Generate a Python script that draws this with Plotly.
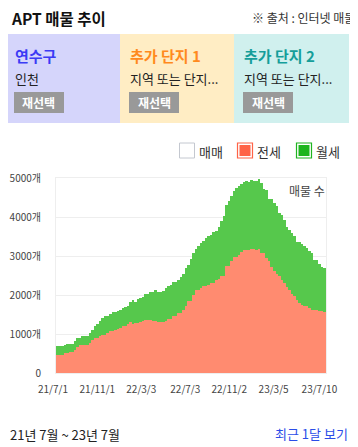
import pandas as pd
import plotly.graph_objects as go

# page body has an 8px default margin; the figure fills the rest of the 358x447 window
BODY = 8
W, H = 358 - BODY, 447 - BODY

# weekly sampling from 2021-07-01
start_date = "2021-07-01"
jeonse = [462, 462, 462, 521, 521, 538, 540, 598, 658, 709,
          709, 709, 709, 769, 855, 897, 897, 940, 983, 983,
          1026, 1068, 1068, 1100, 1128, 1154, 1197, 1197, 1265, 1300,
          1265, 1282, 1282, 1300, 1325, 1350, 1350, 1350, 1325, 1325,
          1300, 1300, 1310, 1325, 1385, 1385, 1453, 1453, 1538, 1538,
          1624, 1726, 1838, 1838, 2009, 2120, 2120, 2180, 2222, 2222,
          2265, 2308, 2308, 2393, 2410, 2496, 2496, 2735, 2735, 2863,
          2974, 2974, 3034, 3094, 3162, 3162, 3162, 3179, 3179, 3162,
          3179, 3077, 3077, 2949, 2863, 2718, 2607, 2547, 2479, 2393,
          2308, 2205, 2120, 2034, 1966, 1863, 1795, 1752, 1709, 1709,
          1667, 1624, 1607, 1607, 1581, 1581, 1556]
wolse = [239, 239, 239, 199, 231, 214, 212, 214, 239, 188,
         248, 248, 248, 257, 239, 300, 368, 385, 427, 470,
         427, 453, 488, 456, 462, 470, 470, 503, 461, 512,
         615, 538, 615, 623, 624, 684, 684, 718, 760, 795,
         768, 785, 800, 855, 837, 880, 872, 872, 855, 923,
         923, 966, 940, 1085, 1068, 1059, 1145, 1153, 1154, 1240,
         1239, 1239, 1299, 1257, 1334, 1404, 1521, 1581, 1667, 1667,
         1684, 1769, 1752, 1761, 1727, 1752, 1727, 1761, 1744, 1761,
         1795, 1795, 1641, 1751, 1598, 1743, 1752, 1727, 1624, 1667,
         1624, 1539, 1538, 1556, 1538, 1487, 1555, 1564, 1556, 1496,
         1453, 1453, 1299, 1299, 1222, 1137, 1128]
dates = pd.date_range(start_date, periods=len(jeonse), freq="7D")

x_tick_vals = ["2021-07-01", "2021-11-01", "2022-03-03", "2022-07-03",
               "2022-11-02", "2023-03-05", "2023-07-10"]
x_tick_text = ["21/7/1", "21/11/1", "22/3/3", "22/7/3", "22/11/2", "23/3/5", "23/7/10"]
y_tick_vals = [0, 1000, 2000, 3000, 4000, 5000]
y_tick_text = ["0", "1000개", "2000개", "3000개", "4000개", "5000개"]

FONT = "Noto Sans CJK KR"
RED = "#ff8b70"
GREEN = "#56c84c"
WEEK_MS = 7 * 24 * 3600 * 1000


def px(x):
    return (x - BODY) / W


def py(y):
    return 1 - (y - BODY) / H


fig = go.Figure()
fig.add_trace(go.Bar(x=dates, y=jeonse, name="전세", marker=dict(color=RED, line=dict(width=0)),
                     width=WEEK_MS, offset=0))
fig.add_trace(go.Bar(x=dates, y=wolse, name="월세", marker=dict(color=GREEN, line=dict(width=0)),
                     width=WEEK_MS, offset=0))

plot_l, plot_r, plot_t, plot_b = 56, 326, 178.3, 373.3

fig.update_layout(
    width=W, height=H, margin=dict(l=0, r=0, t=0, b=0, autoexpand=False),
    paper_bgcolor="white", plot_bgcolor="white",
    barmode="stack", bargap=0, showlegend=False,
    font=dict(family=FONT, color="#333"),
    xaxis=dict(domain=[px(plot_l), px(plot_r)], type="date", automargin=False,
               range=["2021-07-01", "2023-07-20"],
               tickvals=x_tick_vals, ticktext=x_tick_text,
               tickfont=dict(size=10, color="#444", family=FONT),
               ticks="outside", ticklen=7, tickcolor="rgba(0,0,0,0)",
               ticklabelshift=-3,
               showgrid=False, showline=True, mirror=True, linecolor="#eeeeee", linewidth=1,
               zeroline=False, fixedrange=True),
    yaxis=dict(domain=[py(plot_b), py(plot_t)], range=[0, 5000], automargin=False,
               tickvals=y_tick_vals, ticktext=y_tick_text,
               tickfont=dict(size=10, color="#444", family=FONT),
               ticks="outside", ticklen=12, tickcolor="rgba(0,0,0,0)",
               showgrid=True, gridcolor="#eeeeee", gridwidth=1,
               showline=True, mirror=True, linecolor="#eeeeee", linewidth=1,
               zeroline=False, fixedrange=True),
)

shapes = []
annotations = []


def text(x, y, s, size, color, anchor="left", bold=False):
    annotations.append(dict(x=px(x), y=py(y), xref="paper", yref="paper",
                            text=f"<b>{s}</b>" if bold else s, showarrow=False,
                            xanchor=anchor, yanchor="middle", borderpad=0,
                            font=dict(size=size, color=color, family=FONT)))


def rect(x0, y0, x1, y1, fill, line=None, lw=0):
    shapes.append(dict(type="rect", xref="paper", yref="paper",
                       x0=px(x0), x1=px(x1), y0=py(y1), y1=py(y0),
                       fillcolor=fill, line=dict(color=line or fill, width=lw), layer="below"))


# header
text(10, 17.5, "APT 매물 추이", 15.5, "#111", bold=True)
text(356, 18, "※ 출처 : 인터넷 매물", 12, "#333", anchor="right")

# panels
panels = [(5, 120, "#d5d5fb", "연수구", "#3b3bf5", "인천"),
          (120, 234, "#ffedc4", "추가 단지 1", "#ff8a1e", "지역 또는 단지..."),
          (234, 349, "#d0f0ee", "추가 단지 2", "#159e9a", "지역 또는 단지...")]
for x0, x1, bg, title, tcol, sub in panels:
    rect(x0, 34, x1, 123, bg)
    text(x0 + 9, 55, title, 15, tcol, bold=True)
    text(x0 + 9, 79, sub, 13, "#222")
    rect(x0 + 9, 92, x0 + 59, 113, "#999999")
    text(x0 + 34, 102.5, "재선택", 12, "white", anchor="center", bold=True)

# legend
rect(179.5, 143, 194.5, 158, "white", "#c4c8d0", 1)
text(198, 151, "매매", 13, "#333")
rect(237.5, 143, 252.5, 158, "white", "#ff6347", 1.2)
rect(239.5, 145, 250.5, 156, "#ff6347")
text(256, 151, "전세", 13, "#333")
rect(296.5, 143, 311.5, 158, "white", "#1fb41f", 1.2)
rect(298.5, 145, 309.5, 156, "#1db51d")
text(315, 151, "월세", 13, "#333")

# in-chart label
text(326, 190, "매물 수", 12, "#444", anchor="right")

# footer
text(9, 434, "21년 7월 ~ 23년 7월", 13, "#222")
text(349, 433, "최근 1달 보기", 13, "#2b4de8", anchor="right")

fig.update_layout(shapes=shapes, annotations=annotations)
fig.write_html("out.html")
